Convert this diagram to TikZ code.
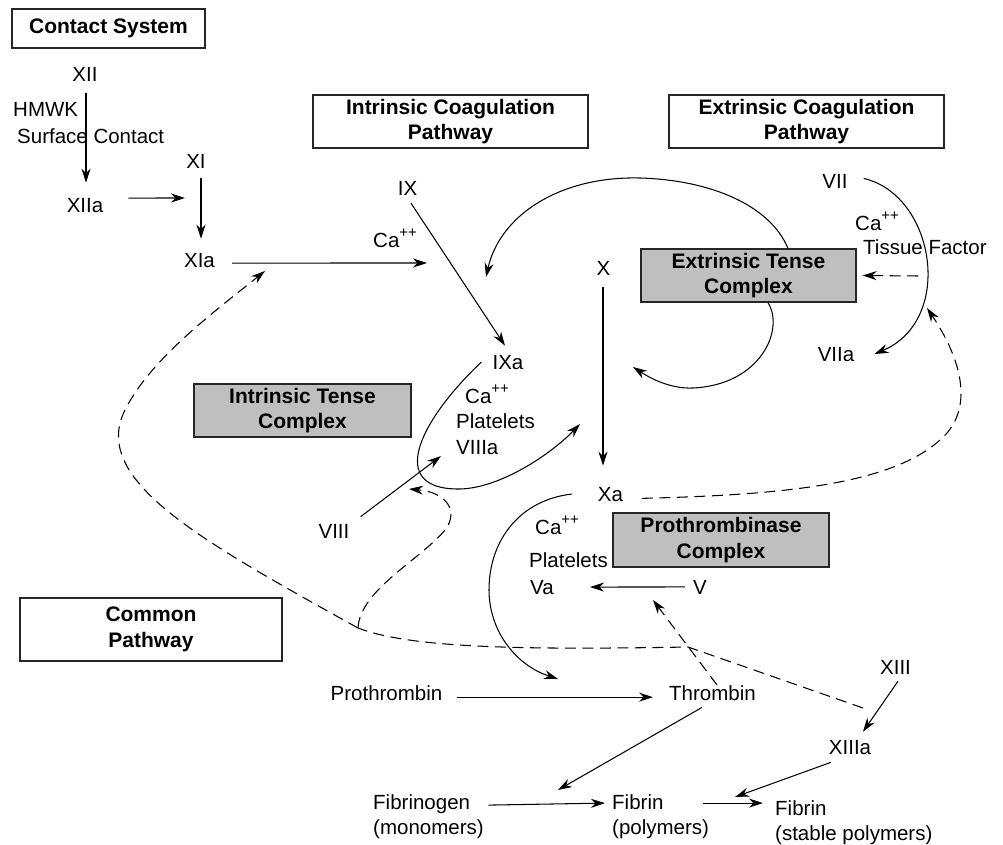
\documentclass[tikz,border=0pt]{standalone}
\usepackage{fontspec}
\setmainfont{Liberation Sans}
\usetikzlibrary{arrows.meta,calc}
\definecolor{boxgrey}{RGB}{190,191,190}
\newcommand{\capp}{Ca\raisebox{9.5pt}{\fontsize{15}{15}\selectfont ++}}
\begin{document}
\begin{tikzpicture}[x=1pt,y=-1pt,
  lbl/.style={inner sep=0pt, anchor=base, font=\fontsize{20.5}{25}\selectfont},
  lblw/.style={lbl, anchor=base west},
  titlebox/.style={draw=black!85, line width=1.2pt, fill=white, align=center, inner sep=0pt, font=\fontsize{21}{25.5}\selectfont\bfseries},
  greybox/.style={titlebox, fill=boxgrey},
  conn/.style={line width=1.05pt, -{Stealth[length=14pt,width=9pt,inset=4.5pt]}},
  dconn/.style={conn, dash pattern=on 11pt off 6.5pt},
  dline/.style={line width=1.05pt, dash pattern=on 11pt off 6.5pt}
]
\useasboundingbox (0,0) rectangle (1003,845);

% boxes
\node[titlebox, minimum width=193pt, minimum height=39pt] (contact) at (108.5,28.5) {Contact System};
\node[titlebox, minimum width=275pt, minimum height=53pt] (intrinsic) at (450.5,121.5) {Intrinsic Coagulation\\Pathway};
\node[titlebox, minimum width=275pt, minimum height=53pt] (extrinsic) at (806.5,121.5) {Extrinsic Coagulation\\Pathway};
\node[greybox, minimum width=215pt, minimum height=53pt] (etc) at (748.5,275.5) {Extrinsic Tense\\Complex};
\node[greybox, minimum width=217pt, minimum height=53pt] (itc) at (302.5,410.5) {Intrinsic Tense\\Complex};
\node[greybox, minimum width=216pt, minimum height=54pt] (ptc) at (721,540) {Prothrombinase\\Complex};
\node[titlebox, minimum width=262pt, minimum height=63pt] (common) at (151,629.5) {Common\\Pathway};

% labels
\node[lbl] (xii) at (85,82) {XII};
\node[lblw] (hmwk) at (13,117) {HMWK};
\node[lblw] (surface) at (17,144) {Surface Contact};
\node[lbl] (xi) at (196,169) {XI};
\node[lbl] (xiia) at (85,212) {XIIa};
\node[lbl] (xia) at (199.5,267) {XIa};
\node[lbl] (ix) at (407.5,195) {IX};
\node[lblw] (caI) at (373,247) {\capp};
\node[lbl] (vii) at (835,189) {VII};
\node[lblw] (caE) at (855,230) {\capp};
\node[lblw] (tf) at (863,254) {Tissue Factor};
\node[lbl] (x) at (603.5,275) {X};
\node[lbl] (viia) at (836,361) {VIIa};
\node[lbl] (ixa) at (508,369) {IXa};
\node[lblw] (caIX) at (465,403) {\capp};
\node[lblw] (plIX) at (456,428) {Platelets};
\node[lblw] (viiia) at (456,454) {VIIIa};
\node[lbl] (viii) at (334,538) {VIII};
\node[lbl] (xa) at (610.5,501) {Xa};
\node[lblw] (caXa) at (535,534) {\capp};
\node[lblw] (plXa) at (529,567) {Platelets};
\node[lblw] (va) at (530,594) {Va};
\node[lbl] (v) at (700,594) {V};
\node[lbl] (prothrombin) at (386.5,700) {Prothrombin};
\node[lbl] (thrombin) at (712.5,700) {Thrombin};
\node[lblw] (fibrinogen) at (373,809) {Fibrinogen};
\node[lblw] (monomers) at (373,834) {(monomers)};
\node[lblw] (fibrin) at (612,809) {Fibrin};
\node[lblw] (polymers) at (612,834) {(polymers)};
\node[lblw] (fibrinS) at (775,815) {Fibrin};
\node[lblw] (stable) at (775,840) {(stable polymers)};
\node[lbl] (xiii) at (895.5,674) {XIII};
\node[lbl] (xiiia) at (850,754) {XIIIa};

% free ends
\coordinate (t2) at (185,198);
\coordinate (t4) at (427,263);
\coordinate (t7) at (580,424);
\coordinate (t8) at (441,456);
\coordinate (t9) at (486,277);
\coordinate (t10) at (633,367);
\coordinate (t12) at (558,679);
\coordinate (t15) at (558,790);
\coordinate (t18) at (735,797);
\coordinate (t20) at (918,276);
\coordinate (t21) at (653,600);
\coordinate (t22) at (927,308);
\coordinate (t23) at (863,708);
\coordinate (bend) at (688,647);
\coordinate (cusp) at (358,628);
\coordinate (txia) at (265,271);
\coordinate (tviii) at (409,489);

% solid connectors
\draw[conn] ([xshift=1pt,yshift=-11pt]xii.south) -- ([xshift=1pt,yshift=15pt]xiia.north);
\draw[conn] ([xshift=25pt,yshift=7pt]xiia.east) -- (t2);
\draw[conn] ([xshift=5pt,yshift=-9pt]xi.south) -- ([xshift=1.5pt,yshift=14pt]xia.north);
\draw[conn] ([xshift=17pt,yshift=-3pt]xia.east) -- (t4);
\draw[conn] ([xshift=3.5pt,yshift=-8pt]ix.south) -- ([xshift=-3pt,yshift=9pt]ixa.north);
\draw[conn] ([xshift=-0.5pt,yshift=-12pt]x.south) -- ([xshift=-7.5pt,yshift=21pt]xa.north);
\draw[conn] ([xshift=-11pt]ixa.west) .. controls (420,420) and (385,490) .. (460,489) .. controls (500,488) and (550,455) .. (t7);
\draw[conn] ([xshift=11pt,yshift=7pt]viii.north east) -- (t8);
\draw[conn] ([xshift=39.5pt]etc.north) .. controls (770,205) and (710,180) .. (640,178) .. controls (560,176) and (500,215) .. (t9);
\draw[conn] ([xshift=19.5pt]etc.south) .. controls (785,330) and (760,385) .. (693,388) .. controls (670,389) and (650,378) .. (t10);
\draw[conn] ([xshift=16pt,yshift=3.5pt]vii.east) .. controls (935,195) and (955,320) .. ([xshift=20pt]viia.east);
\draw[conn] ([xshift=-26pt]xa.west) .. controls (520,500) and (489,540) .. (489,590) .. controls (489,630) and (515,665) .. (t12);
\draw[conn] ([xshift=-8pt]v.west) -- ([xshift=36pt]va.east);
\draw[conn] ([xshift=14pt,yshift=-4.5pt]prothrombin.east) -- ([xshift=-16pt,yshift=-4.5pt]thrombin.west);
\draw[conn] ([xshift=-10.5pt,yshift=-7pt]thrombin.south) -- (t15);
\draw[conn] ([xshift=18pt,yshift=-1.4pt]fibrinogen.east) -- ([xshift=-7pt,yshift=-1.4pt]fibrin.west);
\draw[conn] ([xshift=39pt,yshift=-1.4pt]fibrin.east) -- ([xshift=-12pt,yshift=4.6pt]fibrinS.west);
\draw[conn] ([xshift=2pt,yshift=-8pt]xiiia.south west) -- (t18);
\draw[conn] ([xshift=2.5pt,yshift=-7pt]xiii.south) -- ([xshift=13pt,yshift=8pt]xiiia.north);

% dashed connectors
\draw[dconn] (t20) -- ([xshift=6pt]etc.east);
\draw[dconn] ([xshift=4.5pt]thrombin.north) -- (t21);
\draw[dconn] ([xshift=18.7pt,yshift=-4.3pt]xa.east) .. controls (780,495) and (890,485) .. (940,440) .. controls (975,410) and (962,360) .. (t22);
\draw[dline] (t23) -- (bend) .. controls (520,650) and (410,648) .. (cusp);
\draw[dconn] (cusp) .. controls (200,540) and (90,480) .. (125,410) .. controls (150,360) and (210,315) .. (txia);
\draw[dconn] (cusp) .. controls (360,590) and (420,560) .. (445,530) .. controls (460,510) and (445,492) .. (tviii);
\end{tikzpicture}
\end{document}
